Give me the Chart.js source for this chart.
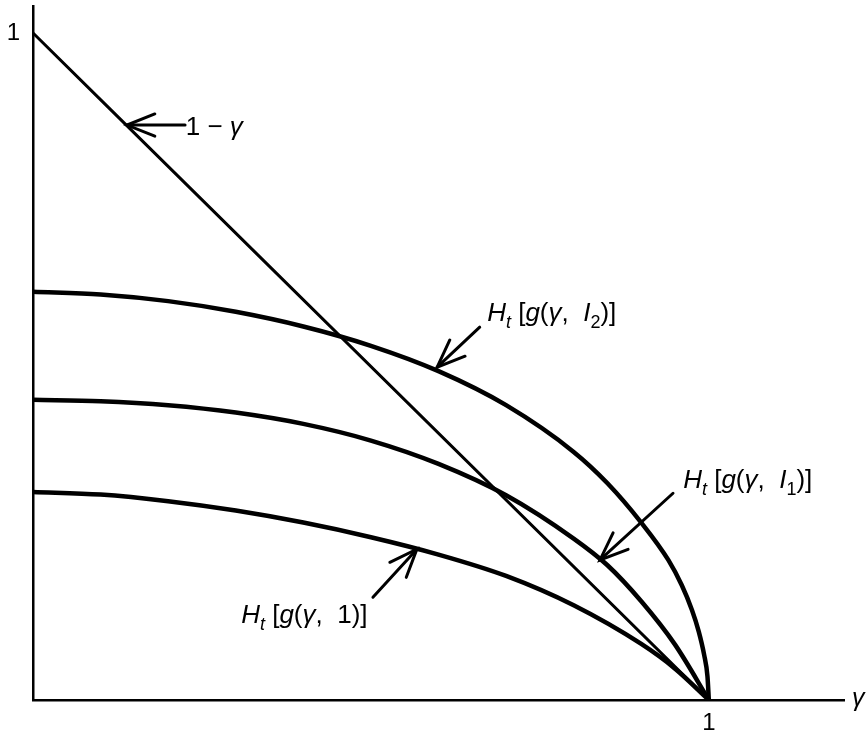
<!DOCTYPE html>
<html>
<head>
<meta charset="utf-8">
<script src="https://cdn.jsdelivr.net/npm/chart.js@4/dist/chart.umd.min.js"></script>
<style>
  body { margin: 0; background: #fff; }
  #wrap { width: 866px; height: 733px; position: relative; }
</style>
</head>
<body>
<div id="wrap"><canvas id="graph"></canvas></div>
<script>
// ============================================
// Data (gamma on x, H on y)
// ============================================
var gammaDiag = [0, 1];
var valDiag = [1, 0];

var gammaI2 = [0, 0.1, 0.2, 0.3, 0.4, 0.5, 0.6, 0.7, 0.8, 0.85, 0.9, 0.94, 0.96, 0.975, 0.985, 0.993, 0.998, 1];
var valI2 = [0.612, 0.608, 0.598, 0.582, 0.560, 0.531, 0.493, 0.442, 0.372, 0.325, 0.266, 0.210, 0.172, 0.135, 0.103, 0.068, 0.035, 0];

var gammaI1 = [0, 0.1, 0.2, 0.3, 0.4, 0.5, 0.6, 0.7, 0.8, 0.85, 0.9, 0.95, 1];
var valI1 = [0.450, 0.448, 0.442, 0.431, 0.414, 0.389, 0.354, 0.307, 0.242, 0.202, 0.148, 0.083, 0];

var gammaOne = [0, 0.1, 0.2, 0.3, 0.4, 0.5, 0.6, 0.7, 0.8, 0.9, 0.95, 1];
var valOne = [0.312, 0.308, 0.298, 0.284, 0.266, 0.244, 0.218, 0.186, 0.142, 0.084, 0.047, 0];

var xTickLabels = ["1"];
var yTickLabels = ["1"];
var axisLabel = "γ";

// Labels: each part is [text, italic, subscript]
var labelDiag = [["1 − ", false, false], ["γ", true, false]];
var labelI2 = [["H", true, false], ["t", true, true], [" [", false, false], ["g", true, false], ["(", false, false],
               ["γ", true, false], [",  ", false, false], ["I", true, false], ["2", false, true], [")]", false, false]];
var labelI1 = [["H", true, false], ["t", true, true], [" [", false, false], ["g", true, false], ["(", false, false],
               ["γ", true, false], [",  ", false, false], ["I", true, false], ["1", false, true], [")]", false, false]];
var labelOne = [["H", true, false], ["t", true, true], [" [", false, false], ["g", true, false], ["(", false, false],
                ["γ", true, false], [",  1)]", false, false]];

// ============================================
// Annotation placement (data coordinates)
// ============================================
var annotations = [
    { parts: labelDiag, text: [0.226, 0.847], tail: [0.225, 0.862], tip: [0.139, 0.862] },
    { parts: labelI2,   text: [0.672, 0.568], tail: [0.661, 0.559], tip: [0.598, 0.499] },
    { parts: labelI1,   text: [0.962, 0.318], tail: [0.947, 0.310], tip: [0.839, 0.210] },
    { parts: labelOne,  text: [0.308, 0.115], tail: [0.503, 0.154], tip: [0.568, 0.226] }
];

var FONT = '"Liberation Sans", Arial, sans-serif';

function toPoints(xs, ys) {
    return xs.map(function (x, i) { return { x: x, y: ys[i] }; });
}

function drawRich(ctx, parts, x, y, size) {
    ctx.textBaseline = "alphabetic";
    ctx.textAlign = "left";
    parts.forEach(function (p) {
        var fs = Math.round(p[2] ? size * 0.68 : size);
        ctx.font = (p[1] ? "italic " : "") + fs + "px " + FONT;
        var dy = p[2] ? size * 0.27 : 0;
        ctx.fillText(p[0], x, y + dy);
        x += ctx.measureText(p[0]).width;
    });
}

function drawArrow(ctx, x1, y1, x2, y2) {
    var ang = Math.atan2(y1 - y2, x1 - x2);
    var len = 30, spread = 0.38;
    ctx.lineWidth = 3;
    ctx.lineCap = "round";
    ctx.beginPath();
    ctx.moveTo(x1, y1);
    ctx.lineTo(x2, y2);
    ctx.stroke();
    ctx.beginPath();
    ctx.moveTo(x2 + len * Math.cos(ang + spread), y2 + len * Math.sin(ang + spread));
    ctx.lineTo(x2, y2);
    ctx.lineTo(x2 + len * Math.cos(ang - spread), y2 + len * Math.sin(ang - spread));
    ctx.stroke();
}

var annotPlugin = {
    id: "annot",
    afterDatasetsDraw: function (chart) {
        var ctx = chart.ctx;
        var xs = chart.scales.x, ys = chart.scales.y;
        var area = chart.chartArea;
        ctx.save();
        ctx.fillStyle = "#000";
        ctx.strokeStyle = "#000";

        annotations.forEach(function (a) {
            drawArrow(ctx, xs.getPixelForValue(a.tail[0]), ys.getPixelForValue(a.tail[1]),
                      xs.getPixelForValue(a.tip[0]), ys.getPixelForValue(a.tip[1]));
            drawRich(ctx, a.parts, xs.getPixelForValue(a.text[0]), ys.getPixelForValue(a.text[1]), 26);
        });

        // tick labels
        ctx.font = "24px " + FONT;
        ctx.textAlign = "center";
        ctx.textBaseline = "top";
        xTickLabels.forEach(function (t) {
            ctx.fillText(t, xs.getPixelForValue(Number(t)), area.bottom + 11);
        });
        ctx.textAlign = "right";
        ctx.textBaseline = "middle";
        yTickLabels.forEach(function (t) {
            ctx.fillText(t, area.left - 13, ys.getPixelForValue(Number(t)));
        });

        // axis label
        ctx.font = "italic 25px " + FONT;
        ctx.textAlign = "left";
        ctx.textBaseline = "alphabetic";
        ctx.fillText(axisLabel, area.right + 8, area.bottom + 6);
        ctx.restore();
    }
};

function serie(xs, ys, width) {
    return {
        data: toPoints(xs, ys),
        showLine: true,
        borderColor: "#000",
        borderWidth: width,
        pointRadius: 0,
        fill: false,
        cubicInterpolationMode: "monotone"
    };
}

var ctx = document.getElementById("graph").getContext("2d");
new Chart(ctx, {
    type: "scatter",
    data: {
        datasets: [
            serie(gammaDiag, valDiag, 3),
            serie(gammaI2, valI2, 4.5),
            serie(gammaI1, valI1, 4.5),
            serie(gammaOne, valOne, 4.5)
        ]
    },
    options: {
        responsive: true,
        maintainAspectRatio: false,
        animation: false,
        layout: { padding: { left: 33, right: 22, top: 6, bottom: 33 } },
        plugins: { legend: { display: false }, tooltip: { enabled: false } },
        scales: {
            x: {
                type: "linear", min: 0, max: 1.2,
                ticks: { display: false },
                grid: { display: false, drawTicks: false },
                border: { display: true, color: "#000", width: 2.5 }
            },
            y: {
                type: "linear", min: 0, max: 1.0405,
                ticks: { display: false },
                grid: { display: false, drawTicks: false },
                border: { display: true, color: "#000", width: 2.5 }
            }
        }
    },
    plugins: [annotPlugin]
});
</script>
</body>
</html>
